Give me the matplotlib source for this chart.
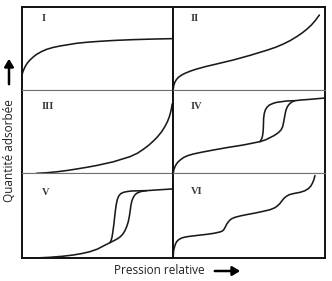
import matplotlib.pyplot as plt
from matplotlib.patches import FancyArrowPatch

# Isotherm types I-VI (x: relative pressure, y: amount, both 0..1)
type1_x = [0.0, 0.004, 0.009, 0.02, 0.035, 0.053, 0.075, 0.097, 0.13, 0.164, 0.205, 0.252, 0.363,
           0.44, 0.518, 0.62, 0.739, 0.87, 1.0]
type1_y = [0.18, 0.21, 0.234, 0.28, 0.325, 0.363, 0.4, 0.431, 0.465, 0.492, 0.514, 0.532, 0.565,
           0.579, 0.589, 0.6, 0.609, 0.616, 0.621]

type2_x = [0.004, 0.007, 0.013, 0.024, 0.037, 0.058, 0.081, 0.118, 0.158, 0.22, 0.289, 0.398, 0.508,
           0.617, 0.675, 0.726, 0.772, 0.814, 0.85, 0.88, 0.91, 0.934, 0.963]
type2_y = [0.02, 0.055, 0.089, 0.125, 0.153, 0.18, 0.202, 0.23, 0.254, 0.285, 0.315, 0.363, 0.419,
           0.48, 0.516, 0.556, 0.598, 0.645, 0.69, 0.734, 0.785, 0.835, 0.907]

type3_x = [0.097, 0.16, 0.23, 0.3, 0.363, 0.43, 0.496, 0.606, 0.717, 0.765, 0.805, 0.84, 0.872,
           0.9, 0.927, 0.948, 0.965, 0.978, 0.987, 0.993, 0.996]
type3_y = [0.0, 0.006, 0.018, 0.034, 0.052, 0.072, 0.094, 0.138, 0.2, 0.24, 0.288, 0.336, 0.388,
           0.44, 0.5, 0.56, 0.62, 0.68, 0.74, 0.79, 0.832]

type4_ads_x = [0.004, 0.008, 0.015, 0.025, 0.037, 0.055, 0.074, 0.1, 0.136, 0.19, 0.245, 0.354, 0.464,
               0.573, 0.61, 0.639, 0.668, 0.694, 0.711, 0.722, 0.728, 0.733, 0.738, 0.744, 0.753,
               0.766, 0.783, 0.803, 0.85, 0.902, 1.0]
type4_ads_y = [0.008, 0.045, 0.08, 0.113, 0.14, 0.168, 0.192, 0.213, 0.232, 0.253, 0.272, 0.308, 0.34,
               0.38, 0.402, 0.428, 0.455, 0.488, 0.52, 0.56, 0.61, 0.66, 0.71, 0.76, 0.8,
               0.832, 0.857, 0.872, 0.881, 0.888, 0.904]
type4_des_x = [0.573, 0.583, 0.589, 0.593, 0.595, 0.596, 0.597, 0.601, 0.608, 0.62, 0.635, 0.66,
               0.683, 0.748, 0.803]
type4_des_y = [0.38, 0.41, 0.44, 0.49, 0.54, 0.6, 0.66, 0.715, 0.76, 0.795, 0.82, 0.84,
               0.852, 0.868, 0.872]

type5_ads_x = [0.009, 0.1, 0.186, 0.27, 0.341, 0.4, 0.451, 0.5, 0.54, 0.584, 0.628, 0.65, 0.668,
               0.683, 0.695, 0.705, 0.712, 0.718, 0.723, 0.73, 0.739, 0.75, 0.765, 0.79, 0.827,
               0.9, 1.0]
type5_ads_y = [0.0, 0.004, 0.012, 0.024, 0.039, 0.057, 0.078, 0.108, 0.145, 0.184, 0.224, 0.25, 0.282,
               0.325, 0.373, 0.43, 0.49, 0.56, 0.627, 0.68, 0.718, 0.748, 0.769, 0.786, 0.796,
               0.805, 0.816]
type5_des_x = [0.584, 0.592, 0.597, 0.602, 0.606, 0.611, 0.615, 0.62, 0.626, 0.633, 0.642, 0.655,
               0.673, 0.7, 0.728, 0.827]
type5_des_y = [0.184, 0.215, 0.247, 0.3, 0.353, 0.42, 0.49, 0.565, 0.639, 0.695, 0.733, 0.76,
               0.776, 0.786, 0.792, 0.796]

type6_x = [0.004, 0.006, 0.011, 0.018, 0.026, 0.04, 0.059, 0.085, 0.114, 0.17, 0.223, 0.27, 0.311,
           0.327, 0.337, 0.346, 0.354, 0.365, 0.376, 0.39, 0.409, 0.445, 0.486, 0.54, 0.595, 0.64,
           0.672, 0.69, 0.705, 0.718, 0.731, 0.747, 0.766, 0.8, 0.836, 0.867, 0.891, 0.906, 0.917,
           0.927, 0.934]
type6_y = [0.039, 0.09, 0.129, 0.167, 0.196, 0.22, 0.239, 0.251, 0.259, 0.271, 0.282, 0.294, 0.31,
           0.322, 0.341, 0.37, 0.4, 0.428, 0.451, 0.468, 0.482, 0.499, 0.514, 0.532, 0.553, 0.572,
           0.596, 0.62, 0.647, 0.678, 0.706, 0.73, 0.749, 0.764, 0.776, 0.794, 0.82, 0.848, 0.882,
           0.925, 0.973]

labels = ["I", "II", "III", "IV", "V", "VI"]

panels = [
    [(type1_x, type1_y)],
    [(type2_x, type2_y)],
    [(type3_x, type3_y)],
    [(type4_ads_x, type4_ads_y), (type4_des_x, type4_des_y)],
    [(type5_ads_x, type5_ads_y), (type5_des_x, type5_des_y)],
    [(type6_x, type6_y)],
]

W, H = 332, 281
fig = plt.figure(figsize=(W / 100, H / 100), dpi=100)

# panel boundaries in pixels
col_edges = [22, 172.7, 325]
row_edges = [7.3, 90, 173.3, 258.3]
label_pos = [(0.13, 0.86), (0.12, 0.86), (0.13, 0.80), (0.12, 0.80), (0.13, 0.77), (0.12, 0.78)]

for i, curves in enumerate(panels):
    r, c = divmod(i, 2)
    x0, x1 = col_edges[c], col_edges[c + 1]
    y0, y1 = row_edges[r], row_edges[r + 1]
    ax = fig.add_axes([x0 / W, 1 - y1 / H, (x1 - x0) / W, (y1 - y0) / H])
    for xs, ys in curves:
        ax.plot(xs, ys, color="#1a1a1a", lw=1.15, solid_capstyle="round", solid_joinstyle="round")
    ax.set_xlim(0, 1)
    ax.set_ylim(0, 1)
    ax.set_xticks([])
    ax.set_yticks([])
    for side in ["left", "right", "top", "bottom"]:
        ax.spines[side].set_color("#111111")
        ax.spines[side].set_linewidth(1.4)
    if r > 0:
        ax.spines["top"].set_color("#707070")
        ax.spines["top"].set_linewidth(0.8)
    if r < 2:
        ax.spines["bottom"].set_color("#707070")
        ax.spines["bottom"].set_linewidth(0.8)
    lx, ly = label_pos[i]
    ax.text(lx, ly, labels[i], transform=ax.transAxes, family="Liberation Serif",
            fontsize=7.5, fontweight="bold", color="#3a3a3a", ha="left", va="center")

fig.text(10 / W, 1 - 151 / H, "Quantité adsorbée", rotation=90, ha="center", va="center",
         fontsize=8.5, family="Open Sans", color="#222222")
fig.text(159 / W, 1 - 270 / H, "Pression relative", ha="center", va="center",
         fontsize=8.5, family="Open Sans", color="#222222")

# arrows next to the axis titles
fig.add_artist(FancyArrowPatch(
    (9 / W, 1 - 87 / H), (9 / W, 1 - 56 / H), transform=fig.transFigure,
    arrowstyle="-|>,head_length=3,head_width=1.8", lw=1.8, color="black", mutation_scale=1.5))
fig.add_artist(FancyArrowPatch(
    (212 / W, 1 - 271 / H), (243 / W, 1 - 271 / H), transform=fig.transFigure,
    arrowstyle="-|>,head_length=3,head_width=1.8", lw=1.8, color="black", mutation_scale=1.5))

fig.savefig("out.png", dpi=100)
